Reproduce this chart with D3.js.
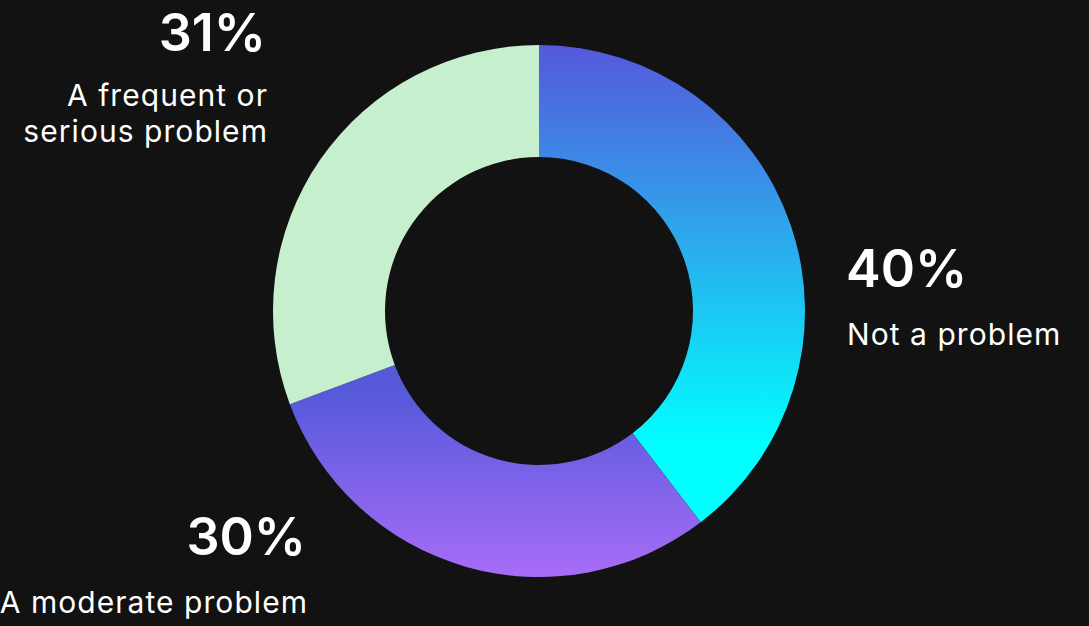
<!DOCTYPE html>
<html>
<head>
<meta charset="utf-8">
<script src="https://cdn.jsdelivr.net/npm/d3@7"></script>
<style>
  html, body { margin: 0; padding: 0; background: #121212; }
  svg { display: block; }
</style>
</head>
<body>
<svg id="chart" width="1089" height="626"></svg>
<script>
// Survey answers, drawn clockwise from 12 o'clock
const categories = ["Not a problem", "A moderate problem", "A frequent or serious problem"];
const values = [40, 30, 31];
const valueLabels = ["40%", "30%", "31%"];
// Label text split into display lines
const labelLines = [["Not a problem"], ["A moderate problem"], ["A frequent or", "serious problem"]];

const width = 1089, height = 626;
const cx = 539, cy = 311;
const outerR = 266, innerR = 154;

const svg = d3.select("#chart");
svg.append("rect").attr("width", width).attr("height", height).attr("fill", "#121212");

// Gradients live in the donut group's coordinate space (origin at the centre)
const defs = svg.append("defs");
const blueGrad = defs.append("linearGradient")
  .attr("id", "gradBlue").attr("gradientUnits", "userSpaceOnUse")
  .attr("x1", 0).attr("y1", -outerR).attr("x2", 0).attr("y2", 134);
blueGrad.append("stop").attr("offset", "0%").attr("stop-color", "#5558db");
blueGrad.append("stop").attr("offset", "100%").attr("stop-color", "#00ffff");

const purpleGrad = defs.append("linearGradient")
  .attr("id", "gradPurple").attr("gradientUnits", "userSpaceOnUse")
  .attr("x1", 0).attr("y1", 77).attr("x2", 0).attr("y2", outerR);
purpleGrad.append("stop").attr("offset", "0%").attr("stop-color", "#5459da");
purpleGrad.append("stop").attr("offset", "100%").attr("stop-color", "#a86cf7");

const fills = ["url(#gradBlue)", "url(#gradPurple)", "#c6f0cd"];

const pie = d3.pie().sort(null).value(d => d);
const arc = d3.arc().innerRadius(innerR).outerRadius(outerR);

const g = svg.append("g").attr("transform", `translate(${cx},${cy})`);
g.selectAll("path")
  .data(pie(values))
  .join("path")
  .attr("d", arc)
  .attr("fill", (d, i) => fills[i]);

// Label anchors, relative to the donut centre
const labelPos = [
  { x: 307, y: -24, anchor: "start" },
  { x: -233, y: 244, anchor: "end" },
  { x: -273, y: -260, anchor: "end" }
];

const font = "Inter, 'Noto Sans', sans-serif";
labelPos.forEach((p, i) => {
  const lg = g.append("g").attr("transform", `translate(${p.x},${p.y})`);
  lg.append("text")
    .attr("text-anchor", p.anchor)
    .attr("font-family", font)
    .attr("font-weight", 600)
    .attr("font-size", 52)
    .attr("fill", "#ffffff")
    .text(valueLabels[i]);
  labelLines[i].forEach((line, j) => {
    lg.append("text")
      .attr("x", p.anchor === "end" ? 2 : 1)
      .attr("y", (i === 2 ? 55 : 58) + j * 36)
      .attr("text-anchor", p.anchor)
      .attr("font-family", font)
      .attr("font-weight", 400)
      .attr("font-size", 30)
      .attr("letter-spacing", 1.05)
      .attr("fill", "#ffffff")
      .text(line);
  });
});
</script>
</body>
</html>
